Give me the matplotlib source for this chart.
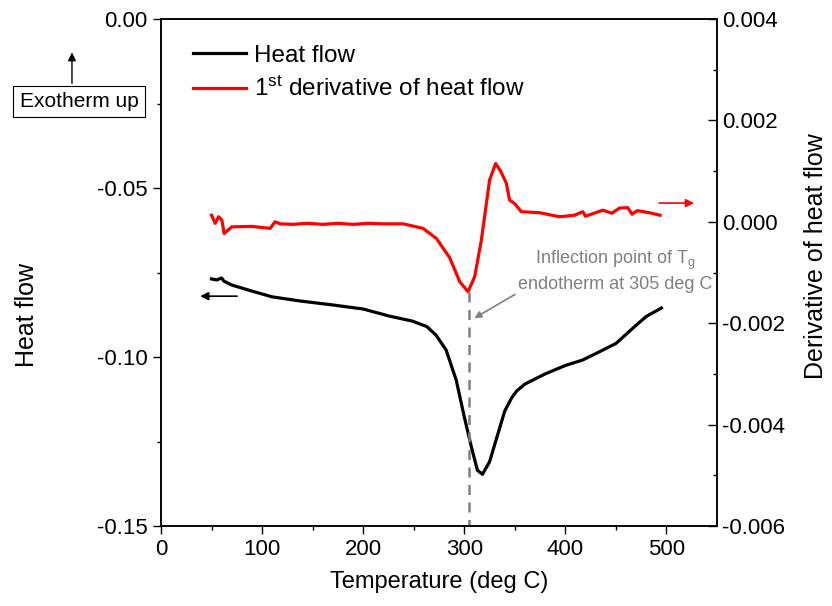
import matplotlib
matplotlib.use("Agg")
import matplotlib.pyplot as plt

plt.rcParams['font.family'] = ['Liberation Sans', 'DejaVu Sans']
plt.rcParams['mathtext.fontset'] = 'custom'
plt.rcParams['mathtext.rm'] = 'Liberation Sans'
plt.rcParams['mathtext.it'] = 'Liberation Sans:italic'

### HEAT FLOW (left axis) ###
temp_hf = [50, 55, 60, 62, 70, 90, 110, 137, 170, 200, 226, 249, 263, 272,
           282, 292, 300, 307, 313, 318, 325, 332, 340, 347, 352, 360, 380,
           400, 417, 430, 450, 470, 480, 495]
heat_flow = [-0.0769, -0.0772, -0.0766, -0.0775, -0.0787, -0.0805, -0.0822,
             -0.0834, -0.0846, -0.0858, -0.0879, -0.0894, -0.0910, -0.0935,
             -0.0979, -0.1068, -0.1177, -0.1266, -0.1335, -0.1347, -0.1310,
             -0.1240, -0.1160, -0.1120, -0.1100, -0.1080, -0.1050, -0.1025,
             -0.1009, -0.0990, -0.0960, -0.0906, -0.0880, -0.0855]

### FIRST DERIVATIVE (right axis) ###
temp_d = [50, 53.6, 56.9, 60.2, 62.5, 70, 90, 107.9, 112.8, 117.8, 130, 145,
          160, 175, 190, 205, 220, 239.5, 259.3, 272.5, 285.6, 295.5, 303.7,
          310.3, 316.9, 325, 331, 336, 341.6, 344.8, 349.8, 356.4, 374.4,
          394.2, 409, 417.2, 420, 437, 446, 453.4, 461.6, 466, 471, 483, 493.6]
deriv = [0.00013, -0.00003, 0.0001, 0.000035, -0.00023, -0.0001, -0.00009,
         -0.00013, 0.0, -0.00004, -0.00005, -0.00003, -0.00005, -0.00003,
         -0.00005, -0.00003, -0.00004, -0.00004, -0.00013, -0.00033, -0.00071,
         -0.00118, -0.00138, -0.00108, -0.00036, 0.00082, 0.00115, 0.00100,
         0.00076, 0.00043, 0.00036, 0.0002, 0.00018, 0.0001, 0.00013, 0.0002,
         0.00011, 0.00023, 0.00017, 0.00027, 0.00028, 0.00015, 0.00022,
         0.00018, 0.00013]

t_inflection = 305
d_min = -0.00138

fig = plt.figure(figsize=(8.32, 6.06), dpi=100)
ax1 = fig.add_axes([0.1935, 0.132, 0.6683, 0.8366])
ax2 = ax1.twinx()

line1, = ax1.plot(temp_hf, heat_flow, c='k', lw=2.3)
line2, = ax2.plot(temp_d, deriv, c='r', lw=2.3)

# dashed marker of the inflection point
ax2.plot([t_inflection, t_inflection], [d_min, -0.006], ls='--', c='grey', lw=1.8,
         dashes=(4, 3))

ax1.set_xlim(0, 550)
ax1.set_ylim(-0.15, 0.0)
ax2.set_ylim(-0.006, 0.004)

ax1.set_xticks([0, 100, 200, 300, 400, 500])
ax1.set_xticks(range(50, 550, 100), minor=True)
ax1.set_yticks([0.0, -0.05, -0.10, -0.15])
ax1.set_yticks([-0.025, -0.075, -0.125], minor=True)
ax1.set_yticklabels(['0.00', '-0.05', '-0.10', '-0.15'])
ax2.set_yticks([0.004, 0.002, 0.0, -0.002, -0.004, -0.006])
ax2.set_yticks([0.003, 0.001, -0.001, -0.003, -0.005], minor=True)
ax2.set_yticklabels(['0.004', '0.002', '0.000', '-0.002', '-0.004', '-0.006'])

ax1.tick_params(which='major', direction='out', length=6, width=1, labelsize=16)
ax1.tick_params(which='minor', direction='out', length=3, width=1)
ax2.tick_params(which='major', direction='in', length=6.5, width=1, labelsize=16)
ax2.tick_params(which='minor', direction='in', length=3, width=1)
for ax in (ax1, ax2):
    for s in ax.spines.values():
        s.set_linewidth(1.1)

ax1.set_xlabel("Temperature (deg C)", fontsize=17, labelpad=8)
ax1.set_ylabel("Heat flow", fontsize=18)
ax2.set_ylabel("Derivative of heat flow", fontsize=18)
ax1.yaxis.set_label_coords(-0.219, 0.416)
ax2.yaxis.set_label_coords(1.156, 0.533)

ax1.legend([line1, line2], ["Heat flow", r"1$^{\rm st}$ derivative of heat flow"],
           loc='upper left', bbox_to_anchor=(0.04, 0.968), frameon=False,
           fontsize=17.5, handlelength=2.2, handletextpad=0.3, labelspacing=0.4,
           borderaxespad=0)

# axis direction arrows
ax1.annotate("", xy=(36, -0.082), xytext=(78, -0.082),
             arrowprops=dict(arrowstyle='-|>', color='k', lw=1.2,
                             mutation_scale=12))
ax2.annotate("", xy=(530, 0.00037), xytext=(490, 0.00037),
             arrowprops=dict(arrowstyle='-|>', color='r', lw=1.2,
                             mutation_scale=12))

# inflection point note
ax1.annotate("Inflection point of T$_{\\rm g}$\nendotherm at 305 deg C",
             xy=(310, -0.0885), xytext=(449, -0.0810),
             ha='center', va='bottom', color='grey', fontsize=13,
             linespacing=1.3,
             arrowprops=dict(arrowstyle='-|>', color='grey', lw=1.2,
                             mutation_scale=10, shrinkA=0, shrinkB=0,
                             relpos=(0.0, 0.0)))

# exotherm direction note
fig.text(0.095, 0.8325, "Exotherm up", ha='center', va='center', fontsize=15,
         bbox=dict(boxstyle='square,pad=0.3', fc='w', ec='k', lw=0.8))
fig.patches.append(matplotlib.patches.FancyArrowPatch(
    (0.0865, 0.858), (0.0865, 0.918), transform=fig.transFigure,
    arrowstyle='-|>', mutation_scale=12, color='k', lw=1.0))

fig.savefig("out.png", dpi=100)
